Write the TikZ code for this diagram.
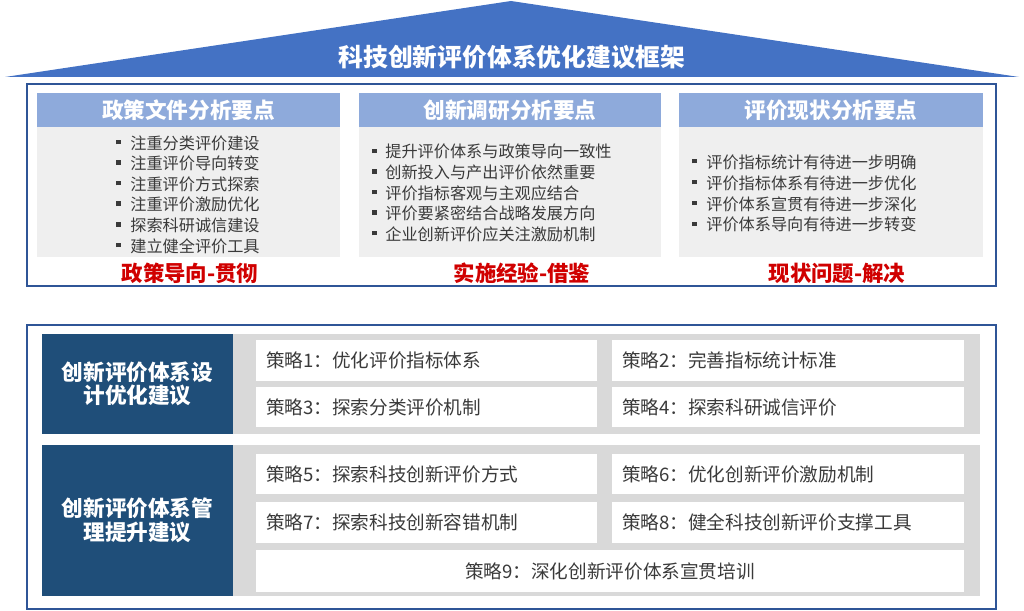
\documentclass[tikz,border=0pt]{standalone}
\usepackage{fontspec}
\setmainfont{Noto Sans CJK SC}
\usetikzlibrary{fit}
\definecolor{triblue}{HTML}{4472C4}
\definecolor{frameblue}{HTML}{2F5597}
\definecolor{headblue}{HTML}{8EAADB}
\definecolor{bodygray}{HTML}{EFEFEF}
\definecolor{labred}{HTML}{D00000}
\definecolor{txtgray}{HTML}{3A3A3A}
\definecolor{darkblue}{HTML}{1F4E79}
\definecolor{bandgray}{HTML}{D9D9D9}
\newcommand{\mybul}[1]{\makebox[#1][l]{\hspace{0.5pt}\raisebox{0.3em}{\rule{2.6pt}{2.6pt}}}}
\begin{document}
\begin{tikzpicture}[x=0.02cm,y=-0.02cm,
  frame/.style={draw=frameblue, line width=1.3pt, inner sep=0},
  head/.style={fill=headblue, inner sep=0},
  headtext/.style={inner sep=0, text=white, font=\fontsize{12.3}{14}\selectfont\bfseries},
  body/.style={fill=bodygray, inner sep=0},
  redlab/.style={text=labred, inner sep=0, font=\fontsize{12.2}{14}\selectfont\bfseries},
  list/.style={align=left, anchor=west, inner sep=0, text=txtgray, font=\fontsize{9.2}{11.7}\selectfont},
  darklab/.style={fill=darkblue, inner sep=0},
  darktext/.style={inner sep=0, text=white, align=center, font=\fontsize{12.3}{13.4}\selectfont\bfseries},
  band/.style={fill=bandgray, inner sep=0},
  sbox/.style={fill=white, inner sep=0},
  stext/.style={inner sep=0, text=txtgray, font=\fontsize{10.6}{12}\selectfont}]
\useasboundingbox (0,0) rectangle (1024,611);
% roof
\fill[triblue] (5,77) -- (511,1) -- (1019,77) -- cycle;
\node[text=white, font=\fontsize{14.1}{16}\selectfont\bfseries] (title) at (512,57) {科技创新评价体系优化建议框架};
% top frame
\node[frame, fit={(27,84)(996,286)}] (topframe) {};
% panel 1
\node[body, fit={(37,127)(340,257)}] (b1) {};
\node[head, fit={(37,93)(340,127)}] (h1) {};
\node[headtext] (ht1) at (h1.center) {政策文件分析要点};
\node[list] (l1) at (115,194.5) {\mybul{0.3cm}注重分类评价建设\\\mybul{0.3cm}注重评价导向转变\\\mybul{0.3cm}注重评价方式探索\\\mybul{0.3cm}注重评价激励优化\\\mybul{0.3cm}探索科研诚信建设\\\mybul{0.3cm}建立健全评价工具};
\node[redlab] (r1) at (190,273) {政策导向-贯彻};
% panel 2
\node[body, fit={(359,127)(661,257)}] (b2) {};
\node[head, fit={(359,93)(661,127)}] (h2) {};
\node[headtext] (ht2) at (h2.center) {创新调研分析要点};
\node[list] (l2) at (371,193) {\mybul{0.28cm}提升评价体系与政策导向一致性\\\mybul{0.28cm}创新投入与产出评价依然重要\\\mybul{0.28cm}评价指标客观与主观应结合\\\mybul{0.28cm}评价要紧密结合战略发展方向\\\mybul{0.28cm}企业创新评价应关注激励机制};
\node[redlab] (r2) at (522,273) {实施经验-借鉴};
% panel 3
\node[body, fit={(679,127)(983,257)}] (b3) {};
\node[head, fit={(679,93)(983,127)}] (h3) {};
\node[headtext] (ht3) at (h3.center) {评价现状分析要点};
\node[list, font=\fontsize{9.2}{11.9}\selectfont] (l3) at (691,193.5) {\mybul{0.3cm}评价指标统计有待进一步明确\\\mybul{0.3cm}评价指标体系有待进一步优化\\\mybul{0.3cm}评价体系宣贯有待进一步深化\\\mybul{0.3cm}评价体系导向有待进一步转变};
\node[redlab] (r3) at (837,273) {现状问题-解决};
% bottom frame
\node[frame, fit={(27,325)(996,609)}] (botframe) {};
% group 1
\node[band, fit={(233,334)(980,434)}] (g1) {};
\node[darklab, fit={(42,334)(233,434)}] (d1) {};
\node[darktext] (dt1) at (d1.center) {创新评价体系设\\计优化建议};
\node[sbox, fit={(256,340)(597,381)}] (s1) {};
\node[sbox, fit={(612,340)(964,381)}] (s2) {};
\node[sbox, fit={(256,387)(597,427)}] (s3) {};
\node[sbox, fit={(612,387)(964,427)}] (s4) {};
\node[stext, anchor=west] (t1) at ([xshift=0.2cm]s1.west) {策略1：优化评价指标体系};
\node[stext, anchor=west] (t2) at ([xshift=0.2cm]s2.west) {策略2：完善指标统计标准};
\node[stext, anchor=west] (t3) at ([xshift=0.2cm]s3.west) {策略3：探索分类评价机制};
\node[stext, anchor=west] (t4) at ([xshift=0.2cm]s4.west) {策略4：探索科研诚信评价};
% group 2
\node[band, fit={(233,445)(980,596)}] (g2) {};
\node[darklab, fit={(42,445)(233,596)}] (d2) {};
\node[darktext] (dt2) at (d2.center) {创新评价体系管\\理提升建议};
\node[sbox, fit={(256,454)(597,494)}] (s5) {};
\node[sbox, fit={(612,454)(964,494)}] (s6) {};
\node[sbox, fit={(256,502)(597,543)}] (s7) {};
\node[sbox, fit={(612,502)(964,543)}] (s8) {};
\node[sbox, fit={(256,550)(964,592)}] (s9) {};
\node[stext, anchor=west] (t5) at ([xshift=0.2cm]s5.west) {策略5：探索科技创新评价方式};
\node[stext, anchor=west] (t6) at ([xshift=0.2cm]s6.west) {策略6：优化创新评价激励机制};
\node[stext, anchor=west] (t7) at ([xshift=0.2cm]s7.west) {策略7：探索科技创新容错机制};
\node[stext, anchor=west] (t8) at ([xshift=0.2cm]s8.west) {策略8：健全科技创新评价支撑工具};
\node[stext] (t9) at (s9.center) {策略9：深化创新评价体系宣贯培训};
\end{tikzpicture}
\end{document}
